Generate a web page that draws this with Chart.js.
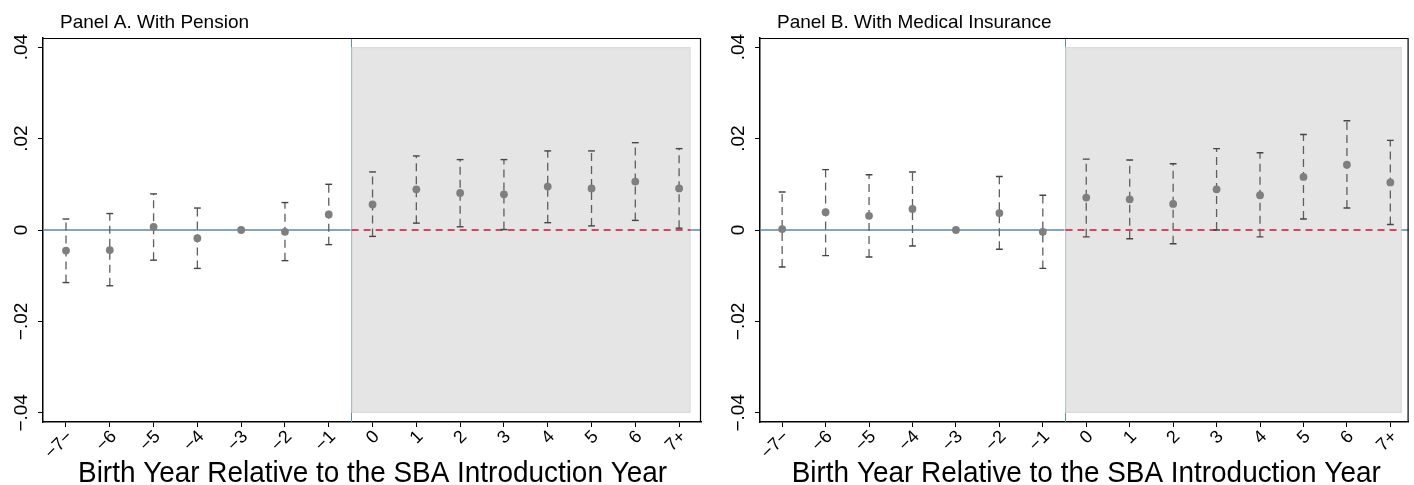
<!DOCTYPE html>
<html>
<head>
<meta charset="utf-8">
<script src="https://cdn.jsdelivr.net/npm/chart.js@4.4.0/dist/chart.umd.min.js"></script>
<style>
  html, body { margin: 0; padding: 0; background: #fff; }
  #wrap { position: relative; width: 1414px; height: 485px; overflow: hidden; }
  canvas { position: absolute; top: 0; }
</style>
</head>
<body>
<div id="wrap">
  <canvas id="panelA" width="707" height="485" style="left:0"></canvas>
  <canvas id="panelB" width="707" height="485" style="left:707px"></canvas>
</div>
<script>
// categories (birth year relative to SBA introduction)
const categories = ["\u22127\u2212", "\u22126", "\u22125", "\u22124", "\u22123", "\u22122", "\u22121",
  "0", "1", "2", "3", "4", "5", "6", "7+"];

// Panel A: with pension
const pensionEst = [-0.0045, -0.0044, 0.0007, -0.0018, 0, -0.0004, 0.0034,
  0.0056, 0.0089, 0.0081, 0.0078, 0.0095, 0.0091, 0.0106, 0.0091];
const pensionLo = [-0.0115, -0.0122, -0.0066, -0.0084, null, -0.0067, -0.0032,
  -0.0014, 0.0015, 0.0007, 0.0001, 0.0016, 0.0009, 0.0021, 0.0004];
const pensionHi = [0.0024, 0.0036, 0.0079, 0.0048, null, 0.0060, 0.0100,
  0.0127, 0.0162, 0.0154, 0.0154, 0.0173, 0.0173, 0.0191, 0.0178];

// Panel B: with medical insurance
const medEst = [0.0002, 0.0039, 0.0031, 0.0046, 0, 0.0037, -0.0004,
  0.0071, 0.0067, 0.0057, 0.0089, 0.0076, 0.0116, 0.0143, 0.0104];
const medLo = [-0.0081, -0.0056, -0.0059, -0.0035, null, -0.0042, -0.0084,
  -0.0015, -0.0019, -0.0030, 0.0000, -0.0015, 0.0024, 0.0048, 0.0012];
const medHi = [0.0083, 0.0132, 0.0121, 0.0127, null, 0.0117, 0.0076,
  0.0155, 0.0153, 0.0145, 0.0178, 0.0169, 0.0209, 0.0239, 0.0196];

const yTicks = [-0.04, -0.02, 0, 0.02, 0.04];
const yTickLabels = ["\u2212.04", "\u2212.02", "0", ".02", ".04"];

// treated cohorts are shaded from between -1 and 0 to the end
const shadeStart = 6.5;
const shadeEnd = 14.26;

const FONT = "'Liberation Sans', Arial, sans-serif";

function panelPlugin(title, titleWidth) {
  return {
    id: "panelDeco",
    beforeDatasetsDraw(chart) {
      const { ctx, chartArea: a, scales: { x, y } } = chart;
      const x0 = x.getPixelForValue(shadeStart);
      const x1 = x.getPixelForValue(shadeEnd);
      const yTop = y.getPixelForValue(0.04);
      const yBot = y.getPixelForValue(-0.04);
      const y0 = y.getPixelForValue(0);
      ctx.save();
      // vertical marker line
      ctx.strokeStyle = "#6a8f9c";
      ctx.lineWidth = 1;
      ctx.beginPath();
      ctx.moveTo(Math.round(x0) + 0.5, a.top);
      ctx.lineTo(Math.round(x0) + 0.5, a.bottom);
      ctx.stroke();
      // shaded area
      ctx.fillStyle = "#e5e5e5";
      ctx.fillRect(x0 + 1, yTop, x1 - x0 - 1, yBot - yTop);
      ctx.strokeStyle = "#d9d9d9";
      ctx.strokeRect(x0 + 1.5, yTop + 0.5, x1 - x0 - 2, yBot - yTop - 1);
      // zero line
      ctx.strokeStyle = "#5e86a8";
      ctx.lineWidth = 1.3;
      ctx.beginPath();
      ctx.moveTo(a.left, y0);
      ctx.lineTo(x0, y0);
      ctx.moveTo(x1, y0);
      ctx.lineTo(a.right, y0);
      ctx.stroke();
      ctx.strokeStyle = "#d0103a";
      ctx.lineWidth = 1.5;
      ctx.setLineDash([7, 5]);
      ctx.beginPath();
      ctx.moveTo(x0 + 1, y0);
      ctx.lineTo(x1, y0);
      ctx.stroke();
      ctx.restore();
    },
    afterDraw(chart) {
      const { ctx, chartArea: a, scales: { x, y } } = chart;
      ctx.save();
      // frame top / right
      ctx.strokeStyle = "#000";
      ctx.lineWidth = 1.2;
      ctx.beginPath();
      ctx.moveTo(a.left, a.top + 0.5);
      ctx.lineTo(a.right, a.top + 0.5);
      if (a.right < chart.width - 2) {
        ctx.moveTo(a.right - 0.5, a.top);
        ctx.lineTo(a.right - 0.5, a.bottom);
      }
      ctx.stroke();

      ctx.fillStyle = "#000";
      // y tick labels, rotated
      ctx.font = "19px " + FONT;
      ctx.textAlign = "center";
      ctx.textBaseline = "middle";
      yTicks.forEach((v, i) => {
        ctx.save();
        ctx.translate(a.left - 21, y.getPixelForValue(v));
        ctx.rotate(-Math.PI / 2);
        ctx.fillText(yTickLabels[i], 0, 0);
        ctx.restore();
      });
      // x tick labels, 45 degrees
      ctx.font = "18px " + FONT;
      ctx.textAlign = "right";
      categories.forEach((c, i) => {
        ctx.save();
        ctx.translate(x.getPixelForValue(i) + 4, a.bottom + 12);
        ctx.rotate(-Math.PI / 4);
        ctx.fillText(c, 0, 0);
        ctx.restore();
      });
      // axis title
      ctx.font = "30px " + FONT;
      ctx.textAlign = "center";
      ctx.textBaseline = "alphabetic";
      ctx.fillText("Birth Year Relative to the SBA Introduction Year",
        x.getPixelForValue(7), 482, 589);
      // panel title
      ctx.font = "19px " + FONT;
      ctx.textAlign = "left";
      ctx.fillText(title, a.left + 17, 28, titleWidth);
      ctx.restore();
    }
  };
}

function makePanel(id, title, titleWidth, est, lo, hi, xMin, xMax, padLeft, padRight) {
  const datasets = [{
    type: "scatter",
    data: est.map((v, i) => ({ x: i, y: v })),
    pointRadius: 3.9,
    pointBackgroundColor: "#7f7f7f",
    pointBorderWidth: 0
  }];
  est.forEach((v, i) => {
    if (lo[i] === null) return;
    datasets.push({
      type: "line",
      data: [{ x: i, y: lo[i] }, { x: i, y: hi[i] }],
      borderColor: "#5e5e5e",
      borderWidth: 1.3,
      borderDash: [8, 5],
      pointStyle: "line",
      pointRadius: 3.4,
      pointBorderColor: "#444",
      pointBorderWidth: 1.4
    });
  });

  return new Chart(document.getElementById(id), {
    data: { datasets },
    options: {
      responsive: false,
      animation: false,
      layout: { padding: { left: padLeft, right: padRight, top: 38, bottom: 58 } },
      plugins: { legend: { display: false }, tooltip: { enabled: false } },
      scales: {
        x: {
          type: "linear",
          min: xMin,
          max: xMax,
          afterBuildTicks: s => { s.ticks = categories.map((c, i) => ({ value: i })); },
          ticks: { display: false },
          grid: { drawOnChartArea: false, drawTicks: true, tickLength: 5, color: "#000", lineWidth: 1 },
          border: { color: "#000", width: 1.5 }
        },
        y: {
          type: "linear",
          min: -0.042,
          max: 0.042,
          afterBuildTicks: s => { s.ticks = yTicks.map(v => ({ value: v })); },
          ticks: { display: false },
          grid: { drawOnChartArea: false, drawTicks: true, tickLength: 5, color: "#000", lineWidth: 1 },
          border: { color: "#000", width: 1.5 }
        }
      }
    },
    plugins: [panelPlugin(title, titleWidth)]
  });
}

makePanel("panelA", "Panel A. With Pension", 191, pensionEst, pensionLo, pensionHi, -0.525, 14.5, 38, 6);
makePanel("panelB", "Panel B. With Medical Insurance", 279, medEst, medLo, medHi, -0.51, 14.42, 48, 0);
</script>
</body>
</html>
